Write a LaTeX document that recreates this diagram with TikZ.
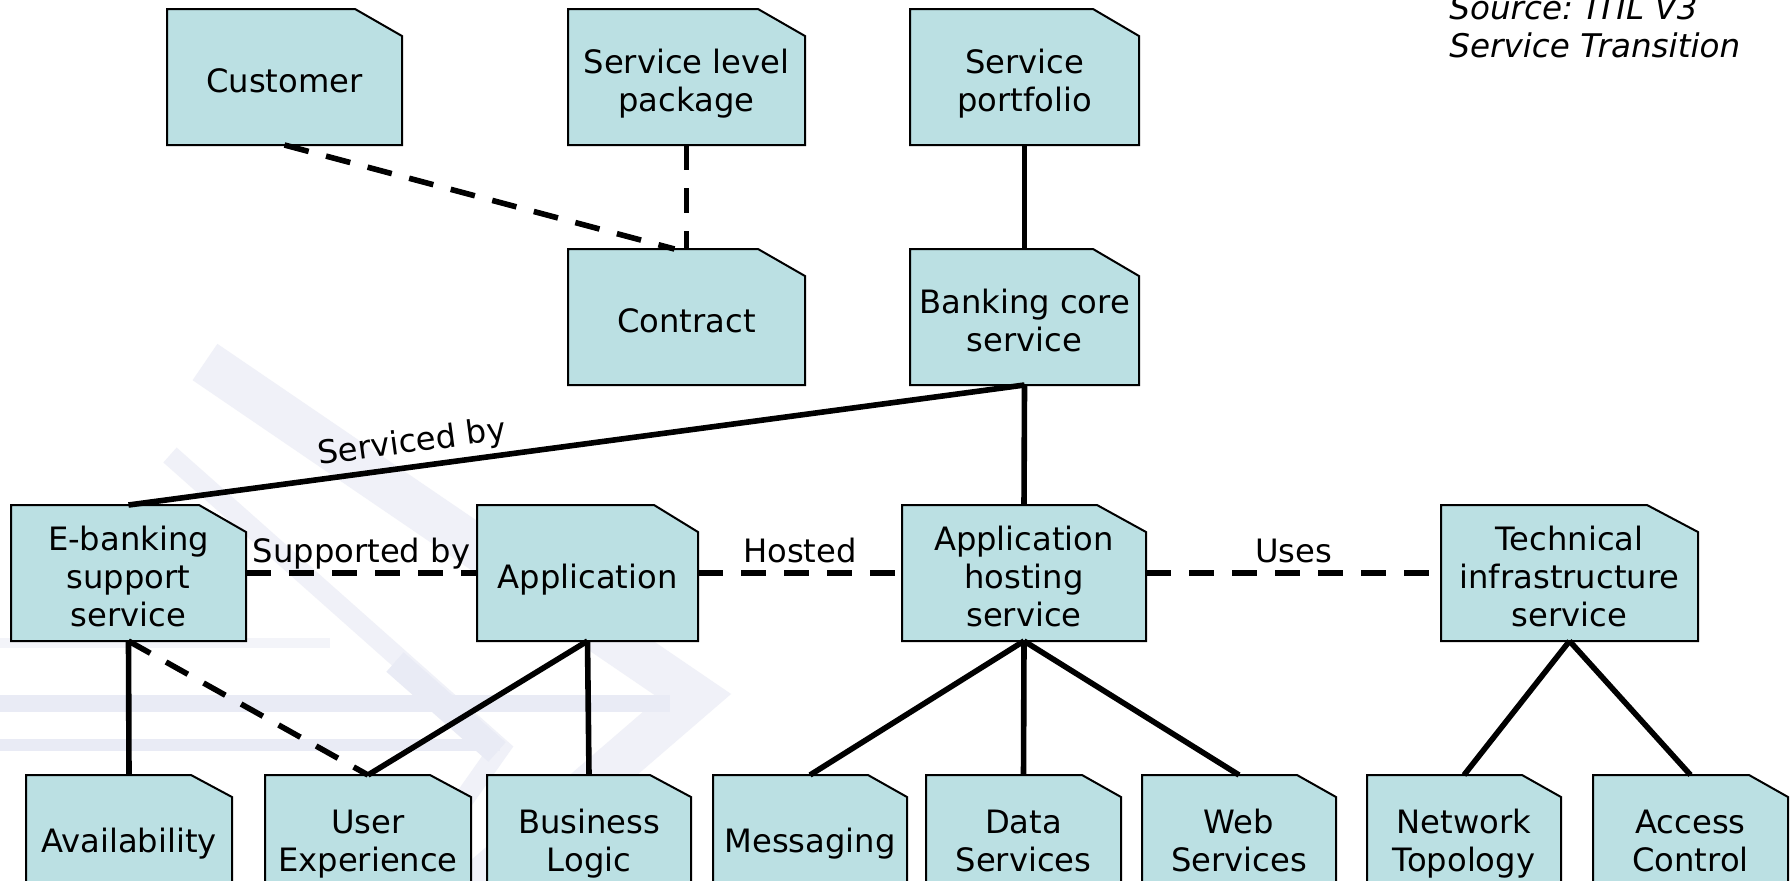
\documentclass[tikz,border=0pt]{standalone}
\usepackage{fontspec}
\setmainfont{DejaVu Sans}
\definecolor{boxfill}{RGB}{187,224,227}
\definecolor{wmA}{RGB}{240,241,248}
\definecolor{wmB}{RGB}{233,235,245}
\definecolor{wmC}{RGB}{243,244,249}
\newcommand\mytopstrut{\rule[-0.2em]{0pt}{\dimexpr1.17em+3pt\relax}}
\newcommand\mystrutline{\rule[-0.2em]{0pt}{1.17em}}
\tikzset{
  docshape/.style={fill=boxfill, draw=black, line width=1pt, line join=miter},
  doctext/.style={inner sep=0pt, outer sep=0pt, align=center, font=\fontsize{16.1}{19}\selectfont, text=black},
  solidlink/.style={line width=2.8pt},
  dashlink/.style={line width=2.8pt, dash pattern=on 12.5pt off 9pt},
  linklabel/.style={font=\fontsize{16.1}{19}\selectfont, inner sep=0pt, anchor=base, yshift=5.5pt},
  slopedlabel/.style={font=\fontsize{16.1}{19}\selectfont, inner sep=2.5pt, sloped, above},
  srctext/.style={font=\fontsize{16.3}{19}\selectfont\itshape, inner sep=0pt, anchor=base west},
  wmband/.style={line cap=butt, line join=miter}
}
% name, x1, y1, x2, y2, fold width, fold height, text
\newcommand\mydocbox[8]{%
  \pgfmathsetmacro\dbxa{#4-#6}\pgfmathsetmacro\dbya{#3+#7}%
  \pgfmathsetmacro\dbcx{(#2+#4)/2}\pgfmathsetmacro\dbcy{(#3+#5)/2}%
  \pgfmathsetmacro\dbw{0.5*(#4-#2)}\pgfmathsetmacro\dbh{0.5*(#5-#3)}%
  \filldraw[docshape] (#2,#3) -- (\dbxa,#3) -- (#4,\dbya) -- (#4,#5) -- (#2,#5) -- cycle;
  \node[doctext, minimum width=\dbw pt, minimum height=\dbh pt] (#1) at (\dbcx,\dbcy) {\mytopstrut#8\mystrutline};
}
\begin{document}
\begin{tikzpicture}[x=0.5pt,y=-0.5pt]
\useasboundingbox (0,0) rectangle (1791,880);
\clip (0,0) rectangle (1791,880);
\fill[white] (0,0) rectangle (1791,880);
% faint watermark
\draw[wmband, wmA, line width=22pt] (205,362) -- (695,696) -- (470,890);
\draw[wmband, wmA, line width=10pt] (170,455) -- (500,748) -- (400,890);
\draw[wmband, wmB, line width=8.5pt] (0,703) -- (670,703);
\draw[wmband, wmB, line width=6pt] (0,745) -- (500,745);
\draw[wmband, wmB, line width=13pt] (395,662) -- (497,752);
\draw[wmband, wmC, line width=5pt] (0,643) -- (330,643);
% boxes
\mydocbox{cust}{167}{9}{402}{145}{47}{27}{Customer}
\mydocbox{slp}{568}{9}{805}{145}{47}{27}{Service level\\package}
\mydocbox{port}{910}{9}{1139}{145}{46}{27}{Service\\portfolio}
\mydocbox{contract}{568}{249}{805}{385}{47}{27}{Contract}
\mydocbox{bank}{910}{249}{1139}{385}{46}{27}{Banking core\\service}
\mydocbox{ebank}{11}{505}{246}{641}{47}{27}{E-banking\\support\\service}
\mydocbox{app}{477}{505}{698}{641}{44}{27}{Application}
\mydocbox{host}{902}{505}{1146}{641}{49}{27}{Application\\hosting\\service}
\mydocbox{tech}{1441}{505}{1698}{641}{51}{27}{Technical\\infrastructure\\service}
\mydocbox{avail}{26}{775}{232}{899}{41}{22}{Availability}
\mydocbox{ux}{265}{775}{471}{899}{41}{22}{User\\Experience}
\mydocbox{bl}{487}{775}{691}{899}{41}{22}{Business\\Logic}
\mydocbox{msg}{713}{775}{907}{899}{39}{22}{Messaging}
\mydocbox{ds}{926}{775}{1121}{899}{39}{22}{Data\\Services}
\mydocbox{ws}{1142}{775}{1336}{899}{39}{22}{Web\\Services}
\mydocbox{nt}{1367}{775}{1561}{899}{39}{22}{Network\\Topology}
\mydocbox{ac}{1593}{775}{1788}{899}{39}{22}{Access\\Control}
% source note
\node[srctext] (src1) at (1449,19) {Source: ITIL V3};
\node[srctext] (src2) at (1449,57) {Service Transition};
% connectors
\draw[dashlink] (cust.south) -- ([xshift=-6pt]contract.north);
\draw[dashlink] (slp.south) -- (contract.north);
\draw[solidlink] (port.south) -- (bank.north);
\draw[solidlink] (ebank.north) -- (bank.south) node[slopedlabel, pos=0.32] {Serviced by};
\draw[solidlink] (bank.south) -- (host.north);
\draw[dashlink] (ebank.east) -- node[linklabel] {Supported by} (app.west);
\draw[dashlink] (app.east) -- node[linklabel] {Hosted} (host.west);
\draw[dashlink] (host.east) -- node[linklabel] {Uses} (tech.west);
\draw[solidlink] (ebank.south) -- (avail.north);
\draw[dashlink] (ebank.south) -- (ux.north);
\draw[solidlink] (app.south) -- (ux.north);
\draw[solidlink] (app.south) -- (bl.north);
\draw[solidlink] (host.south) -- (msg.north);
\draw[solidlink] (host.south) -- (ds.north);
\draw[solidlink] (host.south) -- (ws.north);
\draw[solidlink] (tech.south) -- (nt.north);
\draw[solidlink] (tech.south) -- (ac.north);
\end{tikzpicture}
\end{document}
